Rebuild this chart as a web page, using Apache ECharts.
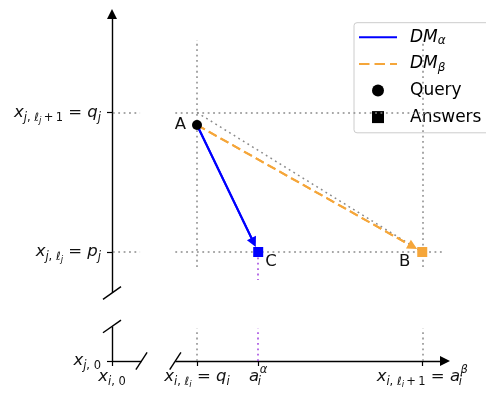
<!DOCTYPE html>
<html><head><meta charset="utf-8">
<script src="https://cdn.jsdelivr.net/npm/echarts@6/dist/echarts.min.js"></script>
<style>html,body{margin:0;padding:0;background:#fff}#c{width:486px;height:395px}</style>
</head><body><div id="c"></div>
<script>
// ---------- data (schematic coordinates) ----------
const xTickValues = [0, 1, 1.72, 3.65];          // x_{i,0}, q_i, a_i^alpha, a_i^beta
const xTickLabels = [
  '{m|x}{s|i}{su|, 0}',
  '{m|x}{s|i}{su|, }{s|ℓ}{ss|i}{r| = }{m|q}{s|i}',
  '{m|a}{sz|i}{sp|α}',
  '{m|x}{s|i}{su|, }{s|ℓ}{ss|i}{su|\u2009+\u20091}{r| = }{m|a}{sz|i}{sp|β}'
];
const yTickValues = [0, 1, 2.28];                // x_{j,0}, p_j, q_j
const yTickLabels = [
  '{m|x}{s|j}{su|, 0}',
  '{m|x}{s|j}{su|, }{s|ℓ}{ss|j}{r| = }{m|p}{s|j}',
  '{m|x}{s|j}{su|, }{s|ℓ}{ss|j}{su|\u2009+\u20091}{r| = }{m|q}{s|j}'
];
const queryPoint = [1, 2.165];                   // A
const answerPoints = [[1.72, 1], [3.65, 1]];     // C (DM_alpha), B (DM_beta)
const answerNames = ['C', 'B'];
const seriesNames = ['DM_alpha', 'DM_beta', 'Query', 'Answers'];
const legendLabels = ['{lm|DM}{ls|α}', '{lm|DM}{ls|β}', 'Query', 'Answers'];

// axis layout (broken axes), data units
const xMin = -0.3, xMax = 4, yMin = -0.3, yMax = 3.3;
const xBreak = [0.347, 0.745];
const yBreak = [0.317, 0.624];
const xArrowEnd = 3.918, yArrowEnd = 3.183;
const hGuideSpans = [[0.01, 0.33], [0.745, 3.88]];
const vGuideSpans = [[0, 0.30], [0.862, 2.945]];
const purpleUpperEnd = 0.743;

// ---------- styles ----------
const F = 'DejaVu Sans';
const BLUE = '#0000ff', ORANGE = '#f5a63a', PURPLE = '#a040e0', GRAY = '#8a8a8a';
const DOT = [1.8, 3.6];
const TXT = '#111';
const ICON_SOLID = 'path://M0,0H38V2H0Z';
const ICON_DASHED = 'path://M0,0H10.5V2H0Z M15.5,0H26V2H15.5Z M31,0H38V2H31Z';

const labelRich = {
  m:  {fontFamily: F, fontSize: 16.5, fontStyle: 'italic', lineHeight: 24, color: TXT},
  r:  {fontFamily: F, fontSize: 16.5, lineHeight: 24, color: TXT},
  s:  {fontFamily: F, fontSize: 11.5, fontStyle: 'italic', lineHeight: 12, padding: [11, 0, 0, 0], color: TXT},
  sz: {fontFamily: F, fontSize: 11.5, fontStyle: 'italic', lineHeight: 12, padding: [11, 0, 0, 0], width: 0.5, color: TXT},
  su: {fontFamily: F, fontSize: 11.5, lineHeight: 12, padding: [11, 0, 0, 0], color: TXT},
  ss: {fontFamily: F, fontSize: 8.5, fontStyle: 'italic', lineHeight: 8, padding: [16, 0, 0, 0], color: TXT},
  sp: {fontFamily: F, fontSize: 11.5, fontStyle: 'italic', lineHeight: 12, padding: [0, 0, 12, 0], color: TXT}
};
function pick(vals, labels) {
  return function (v) {
    let best = 0;
    vals.forEach((t, i) => { if (Math.abs(t - v) < Math.abs(vals[best] - v)) best = i; });
    return labels[best];
  };
}
const seg = (a, b, extraA, extraB) => [Object.assign({coord: a}, extraA || {}), Object.assign({coord: b}, extraB || {})];
const toward = (p, q, f) => [p[0] + (q[0] - p[0]) * f, p[1] + (q[1] - p[1]) * f];
const arrowEnd = {symbol: 'triangle', symbolSize: 10};

// frame: broken axes with arrows and break marks
const vs = [0.106, 0.058], hs = [0.066, 0.079];
const frameLines = [
  seg([0, yBreak[1]], [0, yArrowEnd], null, arrowEnd),
  seg([0, 0], [0, yBreak[0]]),
  seg([0, 0], [xBreak[0], 0]),
  seg([xBreak[1], 0], [xArrowEnd, 0], null, arrowEnd),
  seg([-vs[0], yBreak[0] - vs[1]], [vs[0], yBreak[0] + vs[1]]),
  seg([-vs[0], yBreak[1] - vs[1]], [vs[0], yBreak[1] + vs[1]]),
  seg([xBreak[0] - hs[0], -hs[1]], [xBreak[0] + hs[0], hs[1]]),
  seg([xBreak[1] - hs[0], -hs[1]], [xBreak[1] + hs[0], hs[1]])
];
const guideLines = [];
[yTickValues[1], yTickValues[2]].forEach(y => hGuideSpans.forEach(s => guideLines.push(seg([s[0], y], [s[1], y]))));
[xTickValues[1], xTickValues[3]].forEach(x => vGuideSpans.forEach(s => guideLines.push(seg([x, s[0]], [x, s[1]]))));
guideLines.push(seg([xTickValues[1], yTickValues[2]], answerPoints[1]));
const purpleLines = [
  seg([xTickValues[2], vGuideSpans[0][0]], [xTickValues[2], vGuideSpans[0][1]]),
  seg(answerPoints[0], [xTickValues[2], purpleUpperEnd])
];
const alphaEnd = toward(queryPoint, answerPoints[0], 0.925);
const betaEnd = toward(queryPoint, answerPoints[1], 0.958);

function markLines(data, lineStyle) {
  return {silent: true, symbol: 'none', label: {show: false}, emphasis: {disabled: true},
          lineStyle: lineStyle, data: data, animation: false};
}

const chart = echarts.init(document.getElementById('c'), null, {renderer: 'canvas'});
chart.setOption({
  animation: false,
  backgroundColor: '#fff',
  grid: [
    {left: 86.5, top: 1.3, width: 365.5, height: 392.4, containLabel: false, outerBoundsMode: 'none'},
    {left: 112, top: 1.3, width: 340, height: 359.7, containLabel: false, outerBoundsMode: 'none'}
  ],
  xAxis: [
    {type: 'value', gridIndex: 0, min: xMin, max: xMax, show: false},
    {type: 'value', gridIndex: 1, min: 0, max: xMax,
     axisLine: {show: false}, splitLine: {show: false},
     axisTick: {show: true, customValues: xTickValues, length: 5, lineStyle: {color: '#000', width: 1.2}},
     axisLabel: {customValues: xTickValues, margin: 3.5, formatter: pick(xTickValues, xTickLabels), rich: labelRich, hideOverlap: false}}
  ],
  yAxis: [
    {type: 'value', gridIndex: 0, min: yMin, max: yMax, show: false},
    {type: 'value', gridIndex: 1, min: 0, max: yMax,
     axisLine: {show: false}, splitLine: {show: false},
     axisTick: {show: true, customValues: yTickValues, length: 5, lineStyle: {color: '#000', width: 1.2}},
     axisLabel: {customValues: yTickValues, margin: 11, formatter: pick(yTickValues, yTickLabels), rich: labelRich, hideOverlap: false}}
  ],
  legend: {
    orient: 'vertical', left: 354, top: 22.7,
    padding: [4.6, 16, 5.7, 5],
    itemWidth: 38, itemHeight: 12, itemGap: 6.6,
    backgroundColor: 'rgba(255,255,255,0.8)', borderColor: '#cccccc', borderWidth: 1, borderRadius: 3,
    selectedMode: false,
    data: [
      {name: seriesNames[0], icon: ICON_SOLID, itemStyle: {color: BLUE}},
      {name: seriesNames[1], icon: ICON_DASHED, itemStyle: {color: ORANGE}},
      {name: seriesNames[2], icon: 'circle'},
      {name: seriesNames[3], icon: 'path://M0,0L10,0L10,10L0,10Z'}
    ],
    formatter: name => legendLabels[seriesNames.indexOf(name)],
    textStyle: {
      fontFamily: F, fontSize: 17, color: '#000', lineHeight: 20, padding: [0, 0, 0, 8],
      rich: {
        lm: {fontFamily: F, fontSize: 17, fontStyle: 'italic', lineHeight: 20, color: '#000'},
        ls: {fontFamily: F, fontSize: 12, fontStyle: 'italic', lineHeight: 12, padding: [8, 0, 0, 0], color: '#000'}
      }
    }
  },
  series: [
    {type: 'line', name: 'frame', data: [], z: 3,
     markLine: markLines(frameLines, {color: '#000', width: 1.4, type: 'solid'})},
    {type: 'line', name: 'guides', data: [], z: 1,
     markLine: markLines(guideLines, {color: GRAY, width: 1.5, type: DOT, cap: 'butt'})},
    {type: 'line', name: 'purple', data: [], z: 1,
     markLine: markLines(purpleLines, {color: PURPLE, width: 1.5, type: DOT, cap: 'butt'})},
    {type: 'line', name: seriesNames[0], data: [queryPoint, alphaEnd], symbol: 'none', showSymbol: false, z: 4,
     color: BLUE, lineStyle: {color: BLUE, width: 2, type: 'solid'},
     markLine: markLines([seg(queryPoint, alphaEnd, null, arrowEnd)], {color: BLUE, width: 2, type: 'solid'})},
    {type: 'line', name: seriesNames[1], data: [queryPoint, betaEnd], symbol: 'none', showSymbol: false, z: 4,
     color: ORANGE, lineStyle: {color: ORANGE, width: 2, type: [9, 4.5]},
     markLine: markLines([seg(queryPoint, betaEnd, null, arrowEnd)], {color: ORANGE, width: 2, type: [9, 4.5]})},
    {type: 'scatter', name: seriesNames[2], z: 10, symbol: 'circle', symbolSize: 10,
     itemStyle: {color: '#000', opacity: 1},
     label: {show: true, formatter: 'A', position: 'left', distance: 6, fontFamily: F, fontSize: 16.5, color: TXT},
     data: [queryPoint]},
    {type: 'scatter', name: seriesNames[3], z: 10, symbol: 'rect', symbolSize: 10,
     itemStyle: {color: '#000', opacity: 1},
     label: {show: true, formatter: p => p.name, fontFamily: F, fontSize: 16.5, color: TXT},
     data: [
       {value: answerPoints[0], name: answerNames[0], itemStyle: {color: BLUE, opacity: 1},
        label: {position: 'right', distance: 2, offset: [0, 9.5]}},
       {value: answerPoints[1], name: answerNames[1], itemStyle: {color: ORANGE, opacity: 1},
        label: {position: 'left', distance: 7, offset: [0, 9.5]}}
     ]}
  ]
});
</script></body></html>
